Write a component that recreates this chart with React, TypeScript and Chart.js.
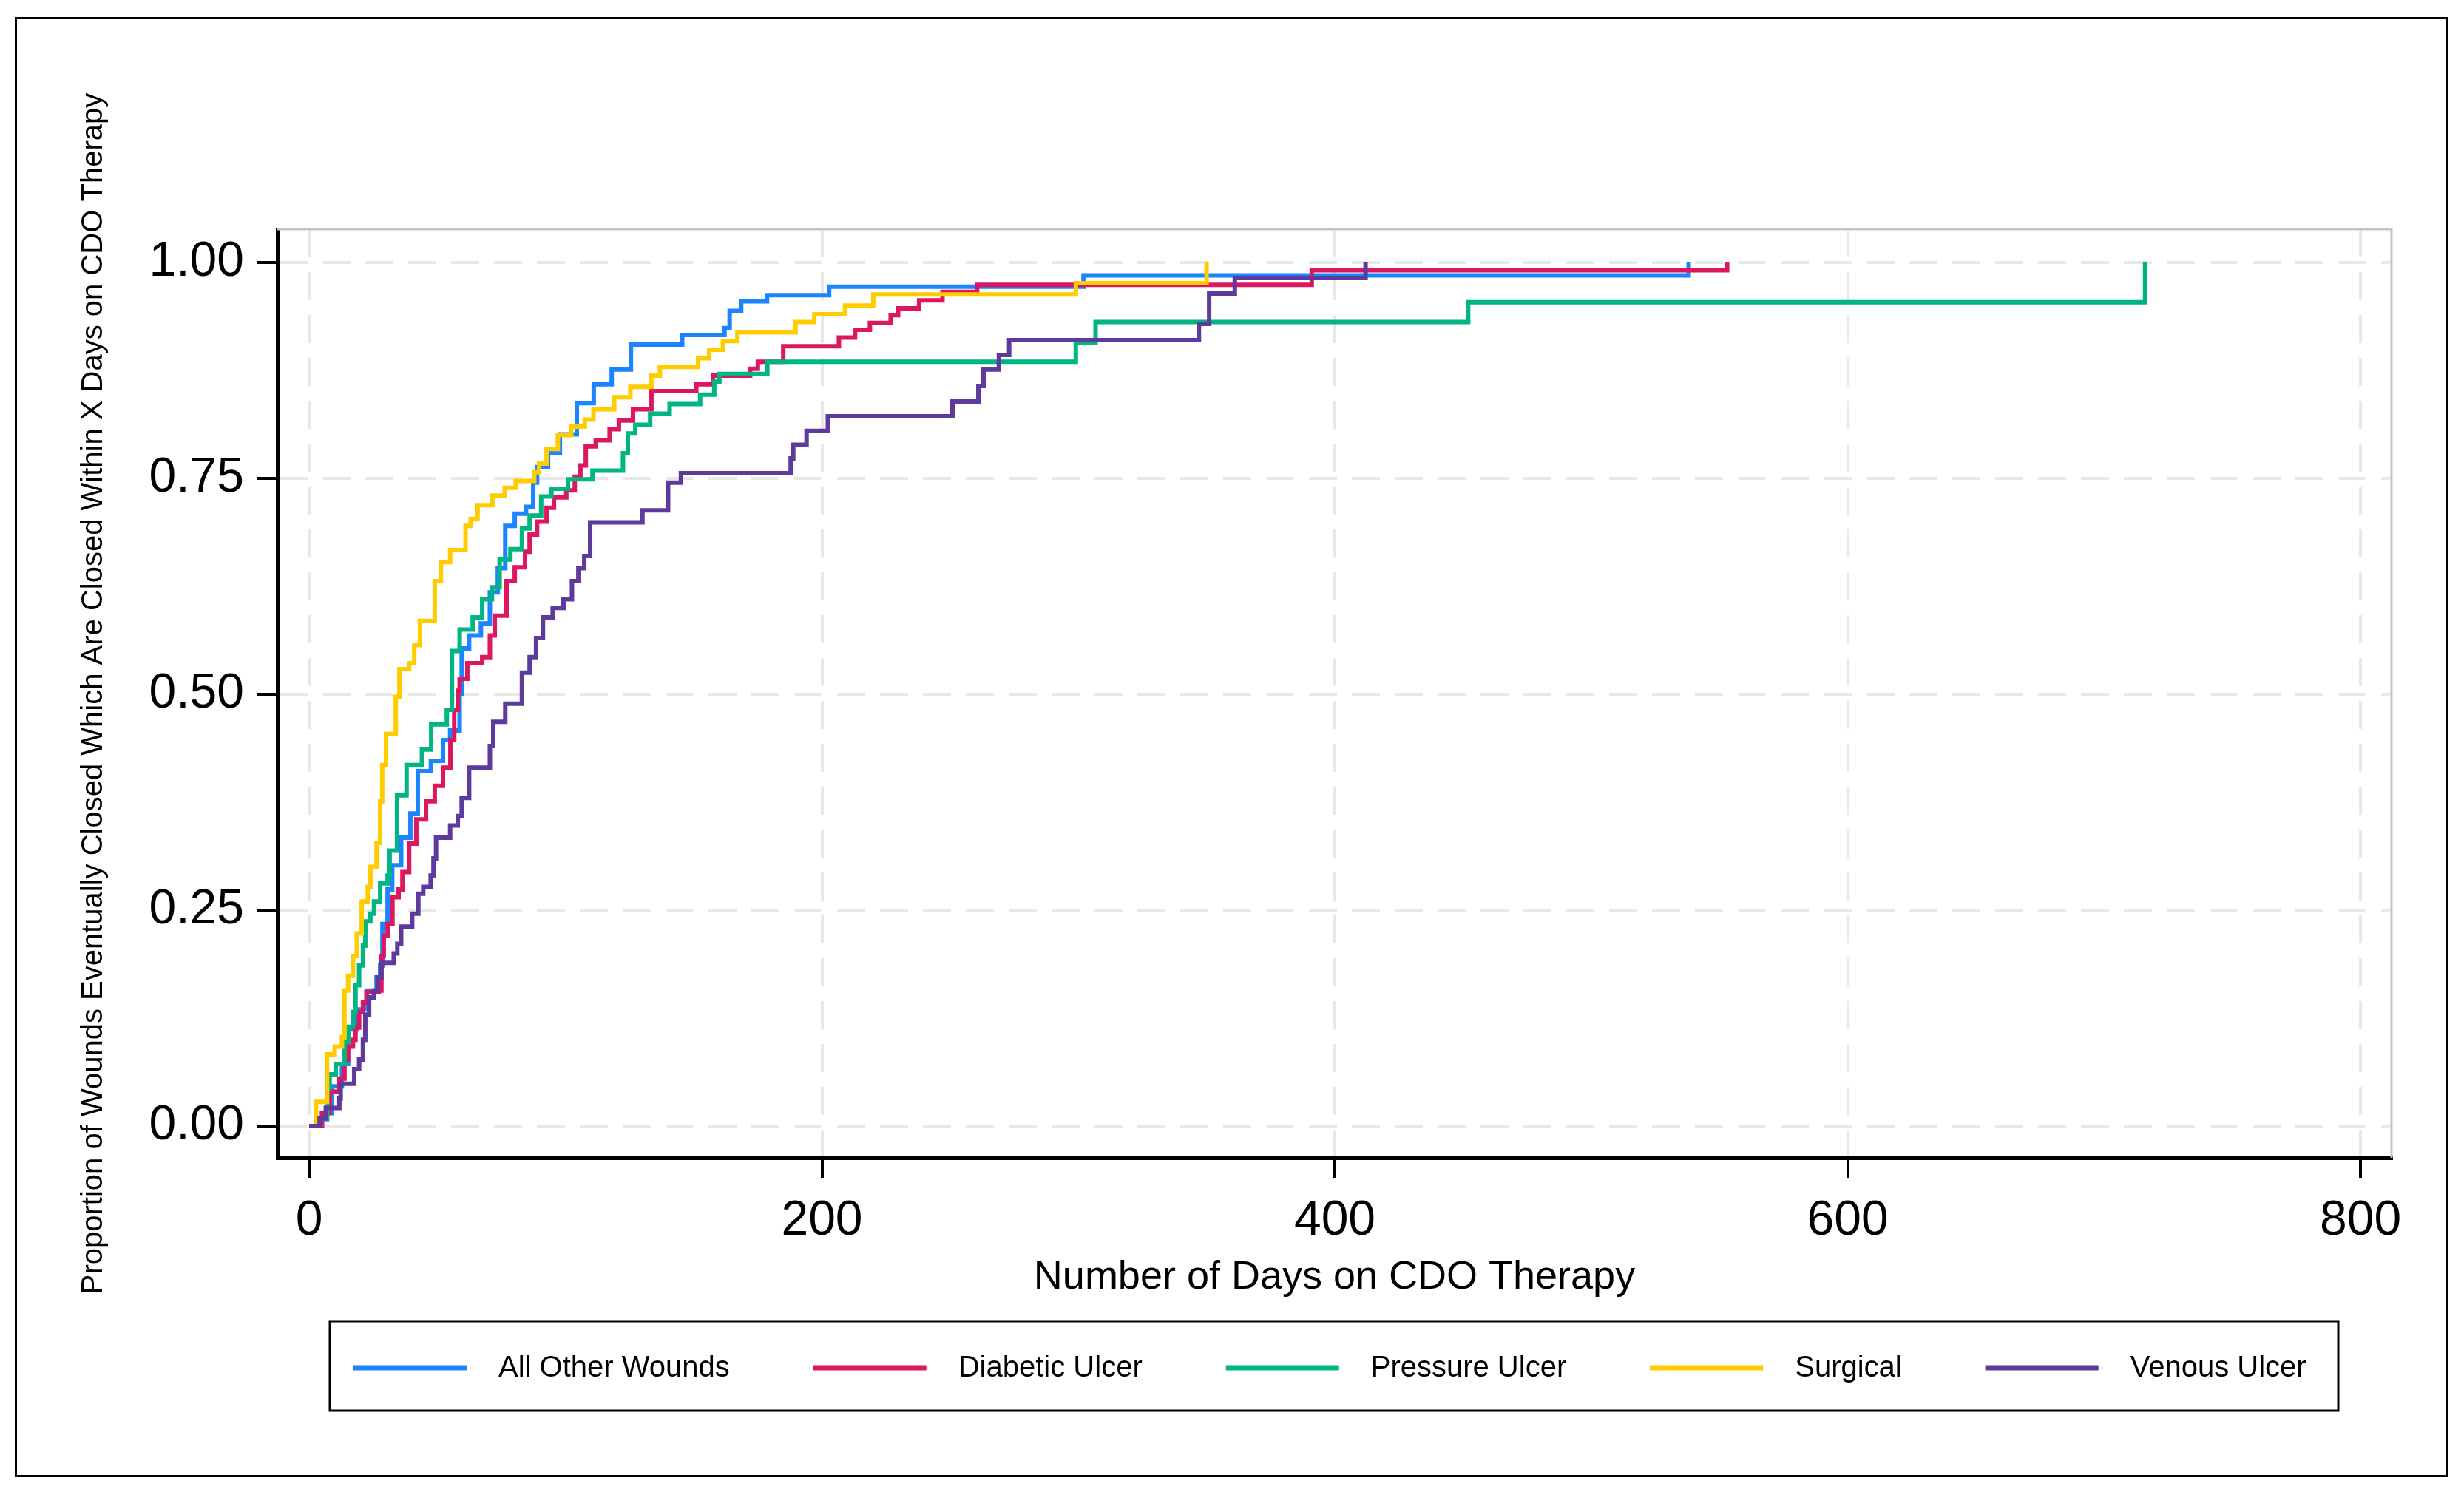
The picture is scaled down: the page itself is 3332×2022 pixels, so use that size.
import React, { useEffect, useRef } from 'react';
import { Chart, registerables } from 'chart.js';

Chart.register(...registerables);

const FONT = '"Liberation Sans", Arial, Helvetica, sans-serif';

const seriesNames = ['All Other Wounds', 'Diabetic Ulcer', 'Pressure Ulcer', 'Surgical', 'Venous Ulcer'];
const seriesColors = ['#1a85ff', '#dc1760', '#00b582', '#ffcc00', '#5d3a9b'];

const xTicks = [0, 200, 400, 600, 800];
const yTicks = [0, 0.25, 0.5, 0.75, 1];
const xTitle = 'Number of Days on CDO Therapy';
const yTitle = 'Proportion of Wounds Eventually Closed Which Are Closed Within X Days on CDO Therapy';

// [day, cumulative proportion closed]
const allOtherWounds: [number, number][] = [
  [0, 0], [5, 0.008], [7, 0.015], [8.9, 0.046], [12.8, 0.072], [15.2, 0.112], [18.6, 0.135], [22.4, 0.157],
  [26.3, 0.172], [27.7, 0.186], [28.6, 0.234], [30.6, 0.274], [32.4, 0.302], [35.9, 0.334], [39.5, 0.362],
  [42.4, 0.411], [47.5, 0.423], [52.2, 0.447], [55, 0.458], [58.7, 0.5], [59.5, 0.553], [62.4, 0.568],
  [67, 0.582], [70.5, 0.618], [73.6, 0.646], [76.5, 0.695], [80.2, 0.709], [84.6, 0.717], [87.4, 0.745],
  [88.9, 0.763], [93.2, 0.78], [97.8, 0.801], [104.4, 0.837], [111, 0.859], [118, 0.876], [125.5, 0.905],
  [145.5, 0.916], [162, 0.924], [164, 0.944], [168.5, 0.955], [178.6, 0.962], [202.8, 0.972], [302, 0.985],
  [538, 1],
];

const diabeticUlcer: [number, number][] = [
  [0, 0], [5, 0.015], [8, 0.04], [11.8, 0.055], [13.8, 0.077], [15.2, 0.092], [17.1, 0.1], [18.1, 0.114],
  [19.5, 0.132], [21, 0.143], [22.4, 0.155], [27.2, 0.157], [28.2, 0.197], [29.1, 0.22], [30.6, 0.234],
  [32.5, 0.265], [34.9, 0.274], [36.4, 0.294], [39, 0.327], [41.8, 0.355], [45.6, 0.376], [49, 0.394],
  [52.2, 0.415], [55.1, 0.447], [56.6, 0.482], [58, 0.504], [58.7, 0.518], [61.7, 0.536], [67.5, 0.543],
  [70.5, 0.568], [72.4, 0.591], [77, 0.631], [80.2, 0.647], [84.2, 0.665], [86, 0.685], [88.9, 0.7],
  [92.6, 0.716], [95.5, 0.728], [100.3, 0.736], [103.6, 0.752], [105.8, 0.765], [107.9, 0.787],
  [111.8, 0.794], [117.2, 0.807], [120.8, 0.817], [126.3, 0.83], [133.5, 0.851], [151, 0.859],
  [157.5, 0.869], [172, 0.877], [175, 0.885], [184.9, 0.903], [206.6, 0.913], [212.9, 0.922],
  [218.7, 0.93], [226.8, 0.939], [229.7, 0.947], [237.9, 0.956], [247, 0.966], [260.5, 0.974],
  [391, 0.991], [553, 1],
];

const pressureUlcer: [number, number][] = [
  [0, 0], [4, 0.009], [7, 0.043], [8, 0.06], [10.4, 0.072], [13.8, 0.098], [15.2, 0.115], [17.1, 0.132],
  [18.1, 0.163], [19.5, 0.186], [21, 0.209], [21.9, 0.237], [23.9, 0.246], [25.3, 0.26], [27.7, 0.281],
  [30.6, 0.29], [31.4, 0.319], [34.3, 0.383], [38, 0.418], [44, 0.436], [47.6, 0.465], [53.7, 0.482],
  [55.7, 0.55], [58.7, 0.575], [63.8, 0.589], [67.5, 0.61], [71.3, 0.624], [74.3, 0.656], [78.5, 0.668],
  [83, 0.692], [86, 0.707], [90.5, 0.729], [94.5, 0.738], [101, 0.749], [110.5, 0.759], [122.4, 0.779],
  [124.3, 0.802], [127.2, 0.812], [133, 0.825], [140.6, 0.836], [152.5, 0.847], [158, 0.862], [160, 0.871],
  [178.7, 0.885], [299, 0.907], [306.7, 0.931], [452, 0.954], [716, 1],
];

const surgical: [number, number][] = [
  [0, 0], [2.7, 0.028], [7, 0.083], [10, 0.092], [12.8, 0.103], [13.8, 0.157], [15.2, 0.174], [17.1, 0.197],
  [18.6, 0.223], [20.5, 0.26], [22.9, 0.277], [23.9, 0.3], [26.3, 0.328], [27.7, 0.376], [28.5, 0.418],
  [30, 0.454], [33.8, 0.497], [35.2, 0.529], [39, 0.536], [41, 0.557], [43.2, 0.585], [49, 0.631],
  [51.4, 0.653], [55, 0.667], [61, 0.695], [63, 0.703], [65.7, 0.719], [71.5, 0.73], [76.3, 0.739],
  [80.6, 0.747], [87.8, 0.757], [89.7, 0.767], [92.6, 0.784], [97, 0.8], [102.2, 0.81], [107.5, 0.818],
  [110.9, 0.83], [119, 0.844], [125.3, 0.856], [133.5, 0.869], [136.8, 0.879], [151.7, 0.889], [156, 0.899],
  [161.4, 0.909], [167, 0.919], [189.7, 0.931], [197, 0.94], [209, 0.95], [220, 0.963], [299, 0.976],
  [350, 1],
];

const venousUlcer: [number, number][] = [
  [0, 0], [4.1, 0.009], [6.5, 0.021], [11.8, 0.032], [12.3, 0.049], [17.6, 0.066], [19.5, 0.077], [21, 0.1],
  [21.9, 0.129], [23.4, 0.149], [25.3, 0.157], [26.7, 0.172], [28.2, 0.189], [33, 0.2], [34.4, 0.211],
  [35.9, 0.231], [40.2, 0.246], [42.6, 0.269], [44.5, 0.277], [47.4, 0.29], [48.5, 0.31], [49.5, 0.334],
  [55, 0.348], [58, 0.359], [59.5, 0.38], [62.4, 0.415], [70.5, 0.44], [71.8, 0.468], [76.5, 0.489],
  [83, 0.525], [86, 0.543], [88.5, 0.565], [91.2, 0.589], [95, 0.6], [99.2, 0.61], [102.5, 0.631],
  [105, 0.646], [107.3, 0.66], [109.6, 0.699], [130, 0.713], [140, 0.745], [145, 0.756], [187.8, 0.773],
  [188.8, 0.789], [194, 0.805], [202.3, 0.822], [250.9, 0.839], [261, 0.857], [263, 0.876], [269, 0.893],
  [273, 0.91], [347, 0.929], [351, 0.964], [361, 0.982], [412, 1],
];

const seriesData = [allOtherWounds, diabeticUlcer, pressureUlcer, surgical, venousUlcer];

const decorPlugin = {
  id: 'decor',
  beforeDatasetsDraw(chart: any) {
    const { ctx, chartArea: a } = chart;
    ctx.save();
    ctx.strokeStyle = '#c4c4c4';
    ctx.lineWidth = 3;
    ctx.beginPath();
    ctx.moveTo(a.left, a.top);
    ctx.lineTo(a.right, a.top);
    ctx.lineTo(a.right, a.bottom);
    ctx.stroke();
    ctx.restore();
  },
  afterDraw(chart: any) {
    const { ctx } = chart;
    ctx.save();
    ctx.strokeStyle = '#000';
    ctx.lineWidth = 3;
    ctx.strokeRect(21.5, 24.5, 3287, 1972);

    const boxL = 446, boxR = 3162, boxT = 1787, boxB = 1908;
    ctx.strokeRect(boxL, boxT, boxR - boxL, boxB - boxT);

    ctx.font = `40px ${FONT}`;
    const lineLen = 153, gapLT = 43, gapItems = 113;
    const ds = chart.data.datasets;
    const widths = ds.map((d: any) => ctx.measureText(d.label).width);
    let x = boxL + 32;
    const cy = 1850;
    ctx.textBaseline = 'middle';
    ctx.textAlign = 'left';
    ctx.fillStyle = '#000';
    ds.forEach((d: any, i: number) => {
      ctx.strokeStyle = d.borderColor;
      ctx.lineWidth = 7;
      ctx.beginPath();
      ctx.moveTo(x, cy);
      ctx.lineTo(x + lineLen, cy);
      ctx.stroke();
      ctx.fillText(d.label, x + lineLen + gapLT, cy + 1);
      x += lineLen + gapLT + widths[i] + gapItems;
    });
    ctx.restore();
  },
};

export default function App() {
  const ref = useRef<HTMLCanvasElement | null>(null);

  useEffect(() => {
    if (!ref.current) return;
    const chart = new Chart(ref.current, {
      type: 'line',
      data: {
        datasets: seriesData.map((pts, i) => ({
          label: seriesNames[i],
          data: pts.map(([x, y]) => ({ x, y })),
          borderColor: seriesColors[i],
          backgroundColor: seriesColors[i],
          borderWidth: 6,
          pointRadius: 0,
          pointHoverRadius: 0,
          stepped: true,
          fill: false,
          tension: 0,
          borderJoinStyle: 'miter',
          order: seriesData.length - 1 - i,
        })),
      },
      options: {
        animation: false,
        responsive: false,
        devicePixelRatio: 1,
        events: [],
        layout: { padding: { left: 100, right: 98, top: 310, bottom: 256 } },
        plugins: { legend: { display: false }, tooltip: { enabled: false } },
        scales: {
          x: {
            type: 'linear',
            min: -12.4,
            max: 812.1,
            afterBuildTicks: (s: any) => {
              s.ticks = xTicks.map((v) => ({ value: v }));
            },
            afterFit: (s: any) => {
              s.height = 200;
            },
            ticks: {
              font: { family: FONT, size: 66 },
              color: '#000',
              padding: 19,
              maxRotation: 0,
              autoSkip: false,
              callback: (v: any) => String(v),
            },
            grid: {
              color: '#e8e8e8',
              lineWidth: 4,
              tickColor: '#000',
              tickWidth: 4,
              tickLength: 27,
              tickBorderDash: [],
            },
            border: { display: true, color: '#000', width: 5, dash: [38, 20] },
            title: {
              display: true,
              text: xTitle,
              font: { family: FONT, size: 54 },
              color: '#000',
              padding: { top: 0, bottom: 5 },
            },
          },
          y: {
            type: 'linear',
            min: -0.0368,
            max: 1.0385,
            afterBuildTicks: (s: any) => {
              s.ticks = yTicks.map((v) => ({ value: v }));
            },
            afterFit: (s: any) => {
              s.width = 275;
            },
            ticks: {
              font: { family: FONT, size: 66 },
              color: '#000',
              padding: 18,
              autoSkip: false,
              callback: (v: any) => Number(v).toFixed(2),
            },
            grid: {
              color: '#e8e8e8',
              lineWidth: 4,
              tickColor: '#000',
              tickWidth: 4,
              tickLength: 27,
              tickBorderDash: [],
            },
            border: { display: true, color: '#000', width: 5, dash: [38, 20] },
            title: {
              display: true,
              text: yTitle,
              font: { family: FONT, size: 40 },
              color: '#000',
              padding: { top: 3, bottom: 0 },
            },
          },
        },
      },
      plugins: [decorPlugin],
    } as any);
    return () => chart.destroy();
  }, []);

  return (
    <div style={{ position: 'fixed', left: 0, top: 0, width: 3332, height: 2022, background: '#fff' }}>
      <canvas ref={ref} width={3332} height={2022} style={{ display: 'block', width: 3332, height: 2022 }} />
    </div>
  );
}
